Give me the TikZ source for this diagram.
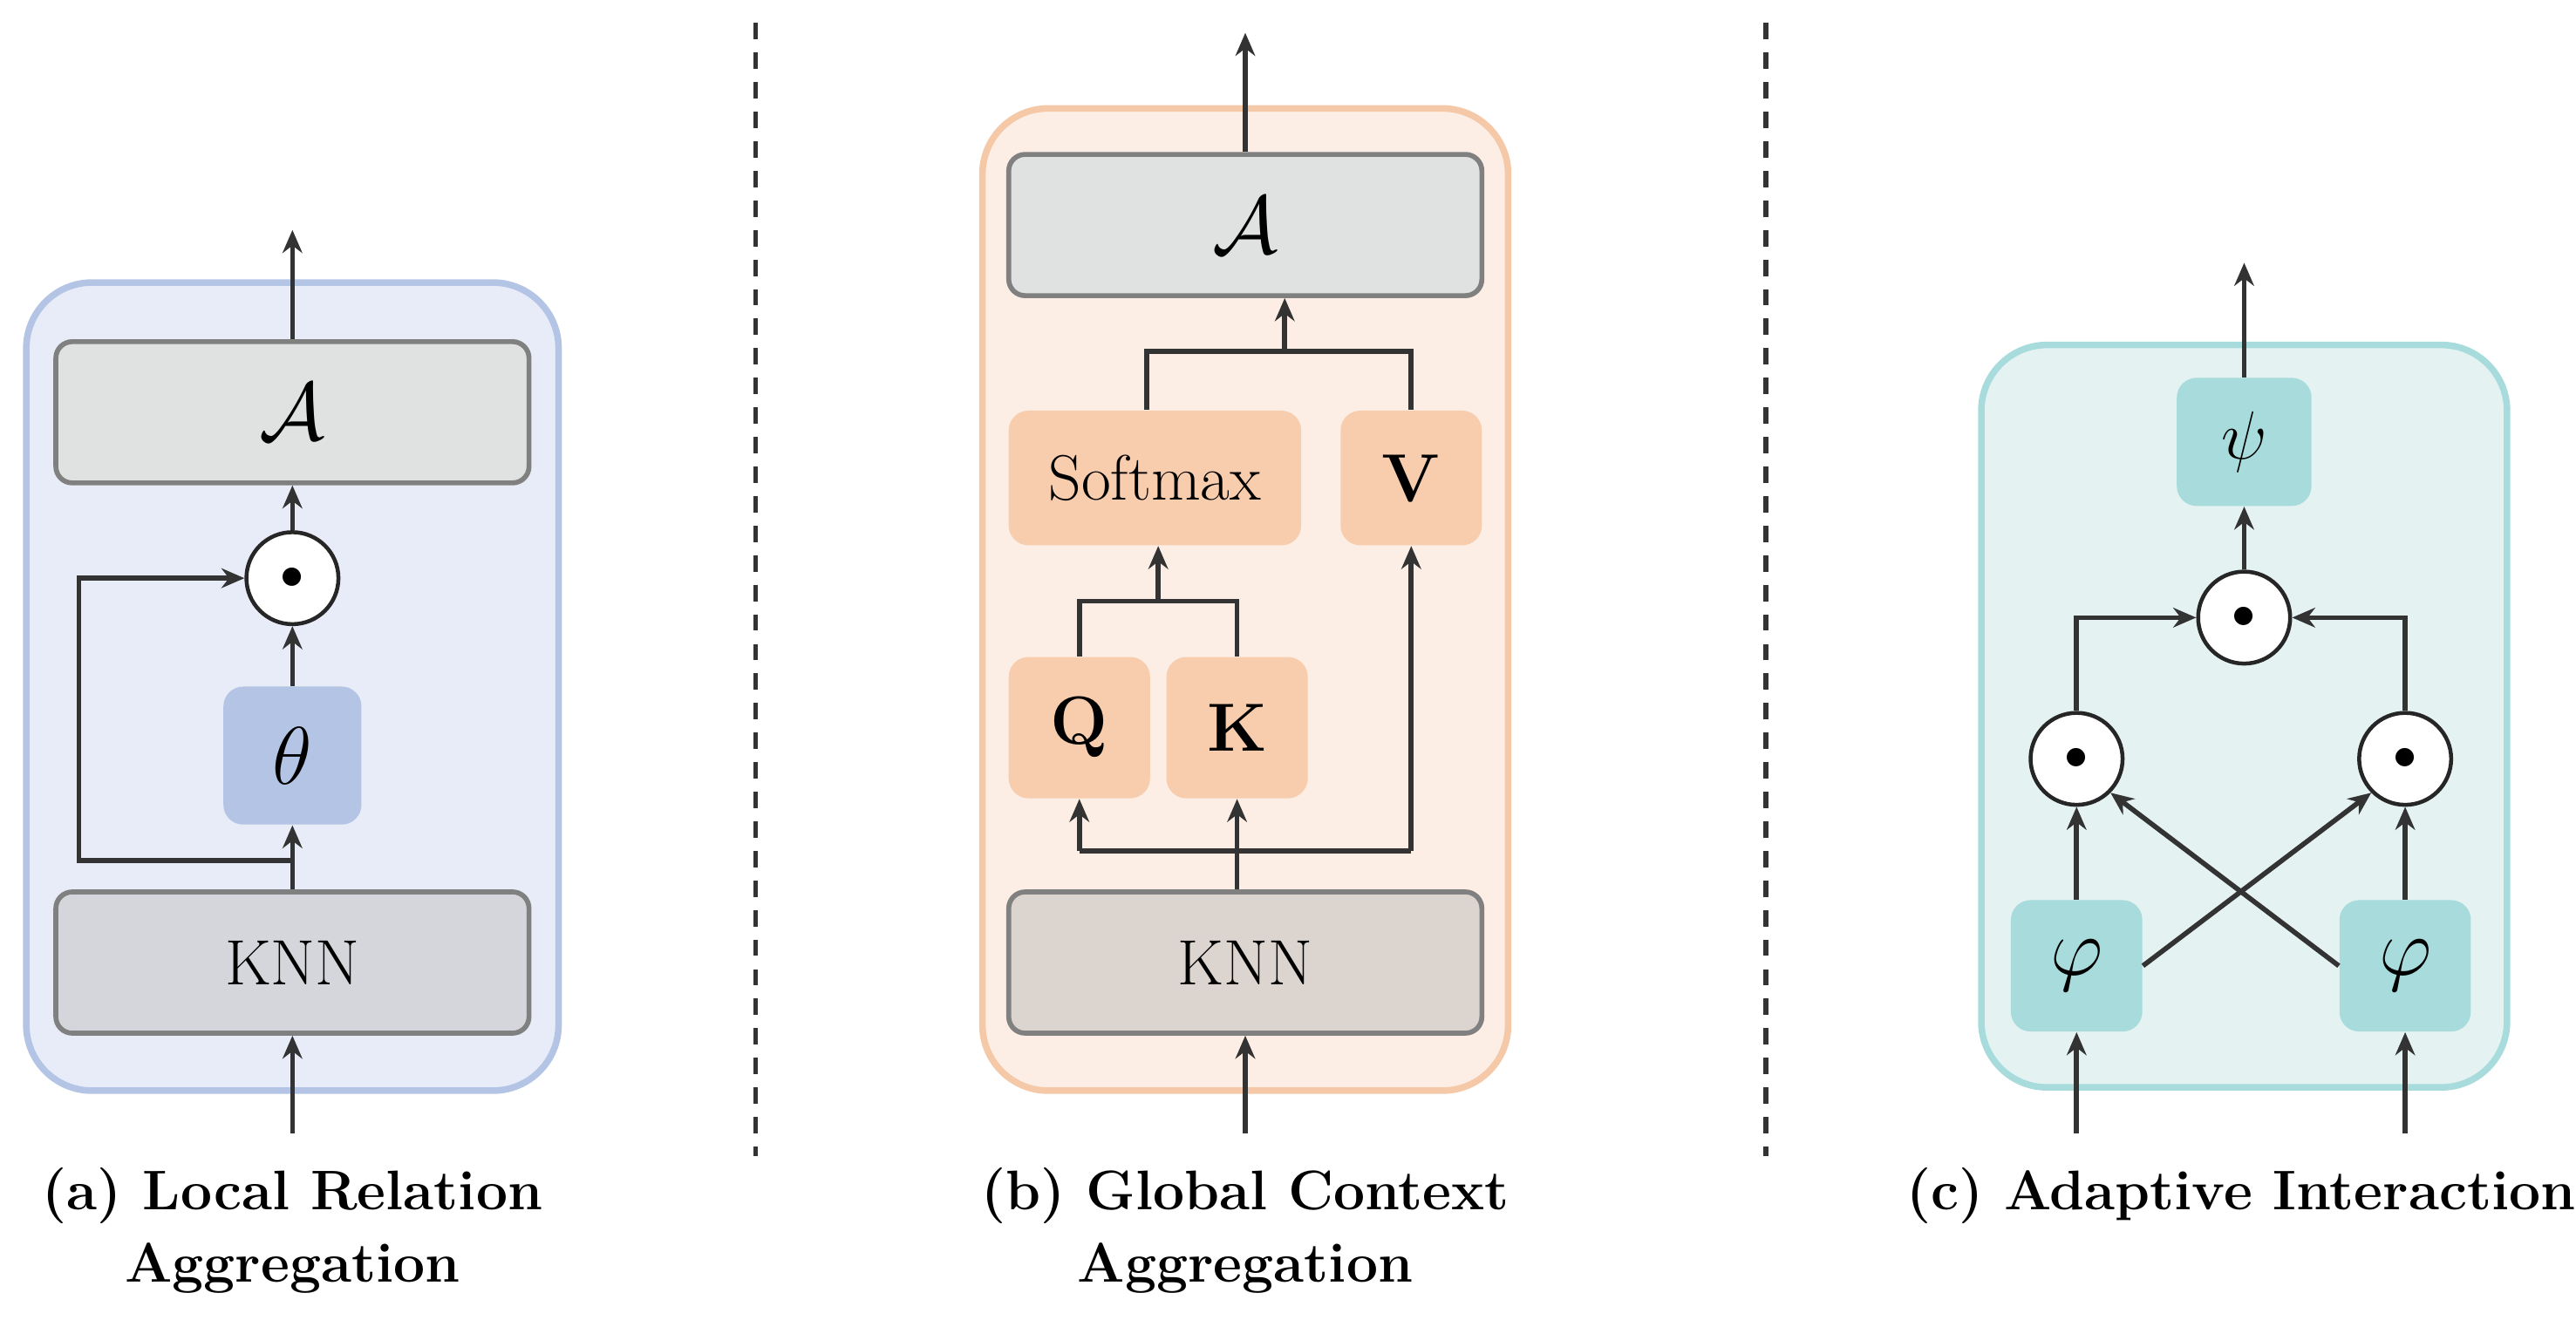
\documentclass[tikz,border=0pt]{standalone}
\usepackage{amsmath,amssymb}
\usetikzlibrary{arrows.meta,calc}
\begin{document}
\begin{tikzpicture}[x=0.5pt,y=-0.5pt,
  ar/.style={draw=black!80,line width=1.5pt,-{Stealth[length=7pt,width=6pt]}},
  ln/.style={draw=black!80,line width=1.5pt},
  cont/.style={draw=#1,line width=2pt,rounded corners=20pt,inner sep=0pt},
  gbox/.style={draw=black!50,line width=1.5pt,rounded corners=5pt,minimum width=144pt,minimum height=43pt,inner sep=0pt},
  sbox/.style={rounded corners=6pt,inner sep=0pt},
  circ/.style={circle,draw=black!85,line width=1.2pt,minimum size=28pt,inner sep=0pt,fill=white},
  captxt/.style={font=\bfseries\fontsize{17}{20}\selectfont},
  txt/.style={font=\fontsize{19.5}{22}\selectfont}]
\useasboundingbox (0,0) rectangle (1568,803.6);
\newcommand{\odotmark}{\fontsize{14}{14}\selectfont$\bullet$}
\definecolor{ca}{HTML}{E8ECF8}\definecolor{cab}{HTML}{B4C4E4}
\definecolor{cb}{HTML}{FCEEE4}\definecolor{cbb}{HTML}{F5C8A8}\definecolor{cbx}{HTML}{F8CDAE}
\definecolor{cc}{HTML}{E4F2F2}\definecolor{ccb}{HTML}{A8DCDC}
\definecolor{gA}{HTML}{E0E2E2}
% dashed separators
\draw[ln,dashed,dash pattern=on 5pt off 4pt] (460,14) -- (460,704);
\draw[ln,dashed,dash pattern=on 5pt off 4pt] (1075,14) -- (1075,704);
% ---------- panel a
\node[cont=cab,fill=ca,minimum width=162pt,minimum height=246pt] (ca) at (178,418) {};
\node[gbox,fill=gA] (aA) at (178,251) {\fontsize{26}{28}\selectfont$\mathcal{A}$};
\node[gbox,fill={rgb,255:red,212;green,214;blue,220},txt] (aK) at (178,586) {KNN};
\node[sbox,fill=cab,minimum width=42pt,minimum height=42pt] (ath) at (178,460) {\fontsize{40}{42}\selectfont$\theta$};
\node[circ] (ao) at (178,352) {\odotmark};
\coordinate (ain) at (178,690); \coordinate (aout) at (178,140);
\coordinate (as1) at (178,524); \coordinate (as2) at (48,524); \coordinate (as3) at (48,352);
\draw[ar] (ain) -- (aK.south);
\draw[ar] (aK.north) -- (ath.south);
\draw[ar] (ath.north) -- (ao.south);
\draw[ar] (ao.north) -- (aA.south);
\draw[ar] (aA.north) -- (aout);
\draw[ar] (as1) -- (as2) -- (as3) -- (ao.west);
\node[captxt] (la1) at (178,728) {(a) Local Relation};
\node[captxt] (la2) at (178,772) {Aggregation};
% ---------- panel b
\node[cont=cbb,fill=cb,minimum width=160pt,minimum height=299pt] (cb) at (758,365) {};
\node[gbox,fill=gA] (bA) at (758,137) {\fontsize{26}{28}\selectfont$\mathcal{A}$};
\node[gbox,fill={rgb,255:red,220;green,212;blue,206},txt] (bK) at (758,586) {KNN};
\node[sbox,fill=cbx,minimum width=89pt,minimum height=41pt,txt] (bS) at (703,291) {Softmax};
\node[sbox,fill=cbx,minimum width=43pt,minimum height=41pt,font=\fontsize{21}{23}\selectfont] (bV) at (859,291) {$\mathbf{V}$};
\node[sbox,fill=cbx,minimum width=43pt,minimum height=43pt,font=\fontsize{21}{23}\selectfont] (bQ) at (657,443) {$\mathbf{Q}$};
\node[sbox,fill=cbx,minimum width=43pt,minimum height=43pt,font=\fontsize{21}{23}\selectfont] (bKk) at (753,443) {$\mathbf{K}$};
\coordinate (bin) at (758,690); \coordinate (bout) at (758,20);
\coordinate (bj1) at (657,518); \coordinate (bj2) at (859,518);
\coordinate (bq1) at (657,366); \coordinate (bq2) at (753,366); \coordinate (bqm) at (705,366);
\coordinate (bs1) at (698,214); \coordinate (bs2) at (859,214); \coordinate (bsm) at (782,214);
\draw[ar] (bin) -- (bK.south);
\draw[ar] (bKk.south|-bK.north) -- (bKk.south);
\draw[ln] (bj1) -- (bj2);
\draw[ar] (bj1) -- (bQ.south);
\draw[ar] (bj2) -- (bV.south);
\draw[ln] (bQ.north) -- (bq1) -- (bq2) -- (bKk.north);
\draw[ar] (bqm) -- (bqm|-bS.south);
\draw[ln] (bs1|-bS.north) -- (bs1) -- (bs2) -- (bV.north);
\draw[ar] (bsm) -- (bsm|-bA.south);
\draw[ar] (bA.north) -- (bout);
\node[captxt] (lb1) at (758,728) {(b) Global Context};
\node[captxt] (lb2) at (758,772) {Aggregation};
% ---------- panel c
\node[cont=ccb,fill=cc,minimum width=160pt,minimum height=226pt] (cc) at (1366,436) {};
\node[sbox,fill=ccb,minimum width=41pt,minimum height=39pt,font=\fontsize{21}{23}\selectfont] (cp) at (1366,269) {$\psi$};
\node[circ] (co) at (1366,376) {\odotmark};
\node[circ] (col) at (1264,462) {\odotmark};
\node[circ] (cor) at (1464,462) {\odotmark};
\node[sbox,fill=ccb,minimum width=40pt,minimum height=40pt,font=\fontsize{30}{32}\selectfont] (cfl) at (1264,588) {$\varphi$};
\node[sbox,fill=ccb,minimum width=40pt,minimum height=40pt,font=\fontsize{30}{32}\selectfont] (cfr) at (1464,588) {$\varphi$};
\coordinate (cinl) at (1264,690); \coordinate (cinr) at (1464,690); \coordinate (cout) at (1366,160);
\coordinate (cl1) at (1264,376); \coordinate (cr1) at (1464,376);
\draw[ar] (cinl) -- (cfl.south);
\draw[ar] (cinr) -- (cfr.south);
\draw[ar] (cfl.north) -- (col.south);
\draw[ar] (cfr.north) -- (cor.south);
\draw[ar] (cfl.east) -- (cor.south west);
\draw[ar] (cfr.west) -- (col.south east);
\draw[ar] (col.north) -- (cl1) -- (co.west);
\draw[ar] (cor.north) -- (cr1) -- (co.east);
\draw[ar] (co.north) -- (cp.south);
\draw[ar] (cp.north) -- (cout);
\node[captxt] (lc1) at (1364,728) {(c) Adaptive Interaction};
\end{tikzpicture}
\end{document}
